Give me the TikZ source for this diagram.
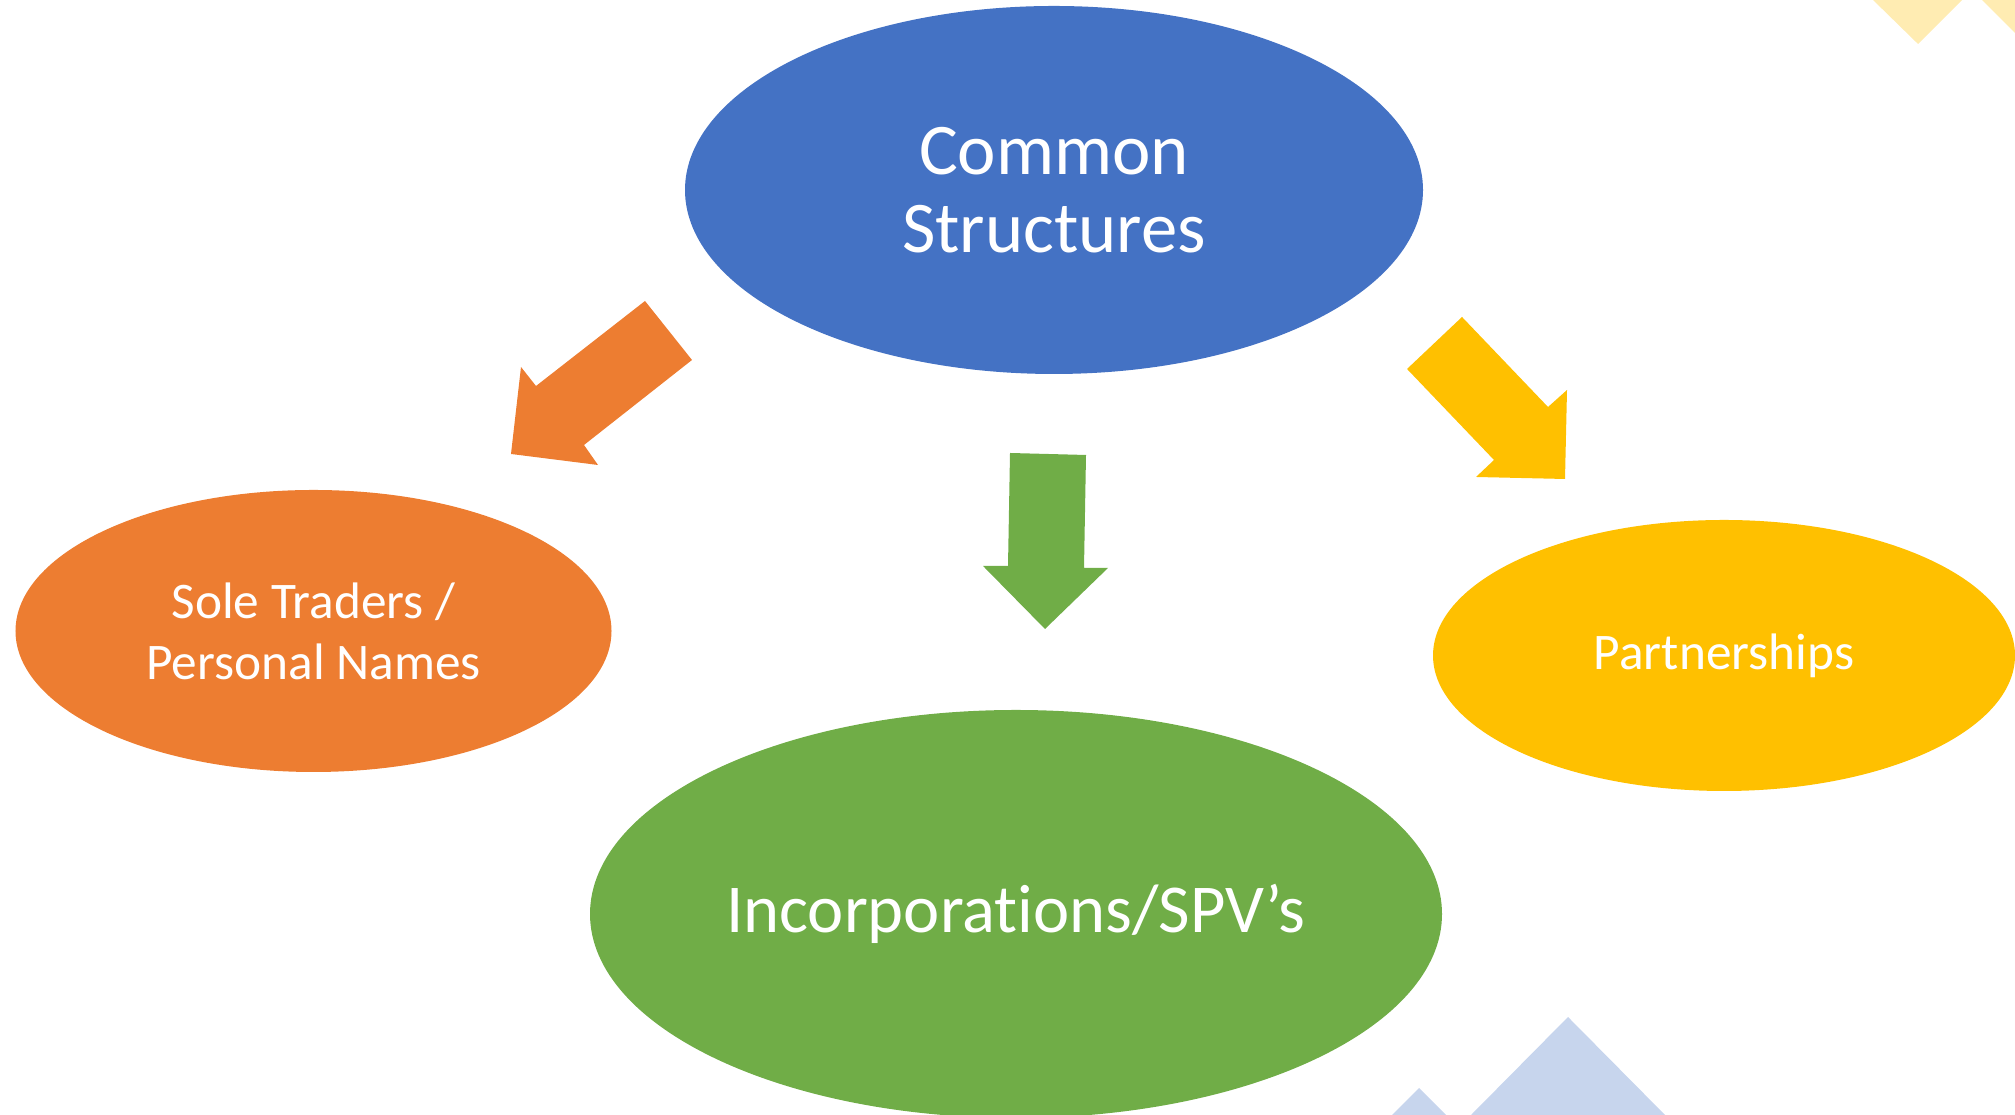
\documentclass[tikz,border=0pt]{standalone}
\usepackage{fontspec}
\setmainfont[Ligatures=NoCommon]{Carlito}
\usetikzlibrary{shapes.geometric}
\definecolor{accblue}{HTML}{4472C4}
\definecolor{accorange}{HTML}{ED7D31}
\definecolor{accgreen}{HTML}{70AD47}
\definecolor{accgold}{HTML}{FFC000}
\tikzset{
	bubble/.style={ellipse, inner sep=0, text=white, align=center},
}

\begin{document}
\begin{tikzpicture}
		%%%%% START %%%%%
		
		\useasboundingbox (0, 0) rectangle (20.15, 11.15);
		\clip (0, 0) rectangle (20.15, 11.15);
		
		\fill[accgold!30] (18.73, 11.15) -- (19.62, 11.15) -- (19.18, 10.71) -- cycle;
		\fill[accgold!30] (19.82, 11.15) -- (20.72, 11.15) -- (20.27, 10.70) -- cycle;
		\fill[accblue!30] (14.71, 0) -- (16.65, 0) -- (15.68, 0.98) -- cycle;
		\fill[accblue!30] (13.92, 0) -- (14.46, 0) -- (14.19, 0.27) -- cycle;
		
		\node[bubble, fill=accblue, minimum width=7.38cm, minimum height=3.68cm,
			font=\fontsize{20.7}{22.2}\selectfont] (common) at (10.54, 9.25) {Common\\Structures};
		
		\node[bubble, fill=accorange, minimum width=5.96cm, minimum height=2.82cm,
			font=\fontsize{14.6}{17.4}\selectfont] (sole) at (3.135, 4.84) {Sole Traders /\\Personal Names};
		
		\node[bubble, fill=accgreen, minimum width=8.52cm, minimum height=4.08cm,
			font=\fontsize{19.5}{22}\selectfont] (incorp) at (10.16, 2.01) {Incorporations/SPV’s};
		
		\node[bubble, fill=accgold, minimum width=5.82cm, minimum height=2.71cm,
			font=\fontsize{14.6}{17}\selectfont] (partner) at (17.24, 4.595) {Partnerships};
		
		\fill[accorange] (6.45, 8.14) -- (6.92, 7.55) -- (5.84, 6.70) -- (5.98, 6.50)
			-- (5.11, 6.61) -- (5.21, 7.48) -- (5.36, 7.29) -- cycle;
		
		\fill[accgreen] (10.10, 6.62) -- (10.86, 6.60) -- (10.84, 5.47) -- (11.08, 5.47)
			-- (10.45, 4.86) -- (9.83, 5.49) -- (10.08, 5.49) -- cycle;
		
		\fill[accgold] (14.62, 7.98) -- (15.48, 7.08) -- (15.67, 7.25) -- (15.65, 6.36)
			-- (14.76, 6.38) -- (14.94, 6.55) -- (14.07, 7.46) -- cycle;
		
		%%%%% END %%%%%
	\end{tikzpicture}
\end{document}
